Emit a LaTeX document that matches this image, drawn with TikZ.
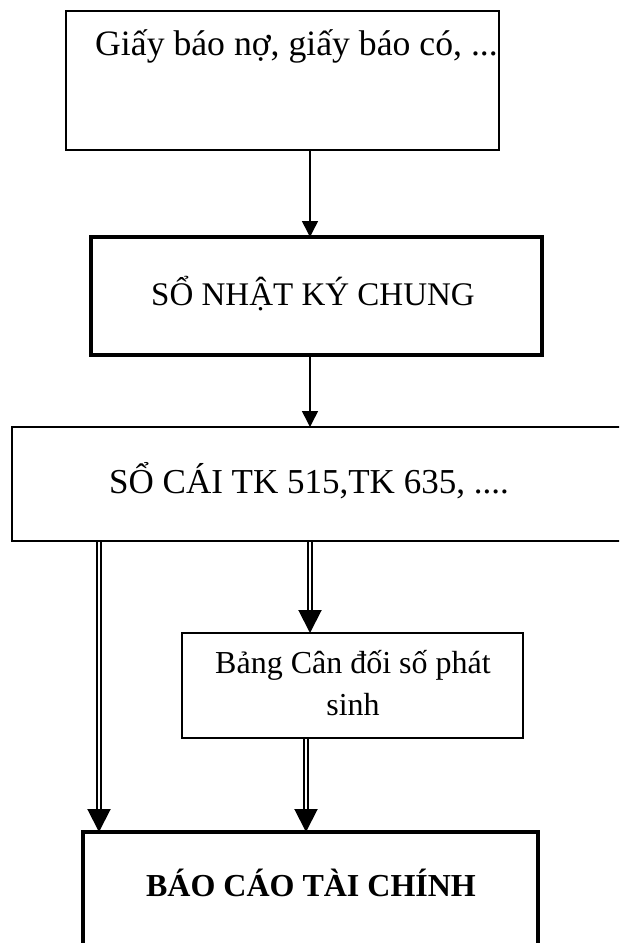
\documentclass[tikz,border=0pt]{standalone}
\usepackage{fontspec}
\setmainfont{Liberation Serif}
\usetikzlibrary{arrows.meta,calc}
\pgfdeclarelayer{bg}
\pgfsetlayers{bg,main}
\begin{document}
\begin{tikzpicture}[x=1pt,y=-1pt,
  box/.style={draw=black, rectangle, inner sep=0pt, outer sep=0pt},
  thinbox/.style={box, line width=1.5pt},
  thickbox/.style={box, line width=3.5pt},
  lbl/.style={anchor=base, inner sep=0pt, font=\fontsize{32}{40}\selectfont},
  arr/.style={line width=1.5pt, -{Triangle[width=16pt,length=16pt]}},
  darr/.style={double, double distance=2.5pt, line width=2pt, -{Triangle[width=23pt,length=23pt]}}]
\useasboundingbox (0,0) rectangle (619,943);
\clip (0,0) rectangle (619,943);
\node[thinbox, minimum width=433pt, minimum height=139pt] (b1) at (282.5,80.5) {};
\node[thickbox, minimum width=451pt, minimum height=118pt] (b2) at (316.5,296) {};
\node[thinbox, minimum width=628pt, minimum height=114pt] (b3) at (326,484) {};
\node[thinbox, minimum width=341pt, minimum height=105pt] (b4) at (352.5,685.5) {};
\node[thickbox, minimum width=455pt, minimum height=128pt] (b5) at (310.5,896) {};
\node[lbl, anchor=base west, font=\fontsize{35.7}{42}\selectfont] (t1) at (95,55) {Giấy báo nợ, giấy báo có, ...};
\node[lbl, font=\fontsize{33}{40}\selectfont] (t2) at (313,305.5) {SỔ NHẬT KÝ CHUNG};
\node[lbl, anchor=base west, font=\fontsize{35}{42}\selectfont] (t3) at (109,493) {SỔ CÁI TK 515,TK 635, ....};
\node[lbl] (t4a) at (353,673) {Bảng Cân đối số phát};
\node[lbl] (t4b) at (353,715) {sinh};
\node[lbl, font=\bfseries\fontsize{32}{40}\selectfont] (t5) at (311,896) {BÁO CÁO TÀI CHÍNH};
\coordinate (xm) at (310,0);
\coordinate (xl) at (99,0);
\coordinate (xr) at (306,0);
\begin{pgfonlayer}{bg}
\draw[arr] (b1.south -| xm) -- (b2.north -| xm);
\draw[arr] (b2.south -| xm) -- (b3.north -| xm);
\draw[darr] (b3.south -| xm) -- (b4.north -| xm);
\draw[darr] (b3.south -| xl) -- (b5.north -| xl);
\draw[darr] (b4.south -| xr) -- (b5.north -| xr);
\end{pgfonlayer}
\end{tikzpicture}
\end{document}
